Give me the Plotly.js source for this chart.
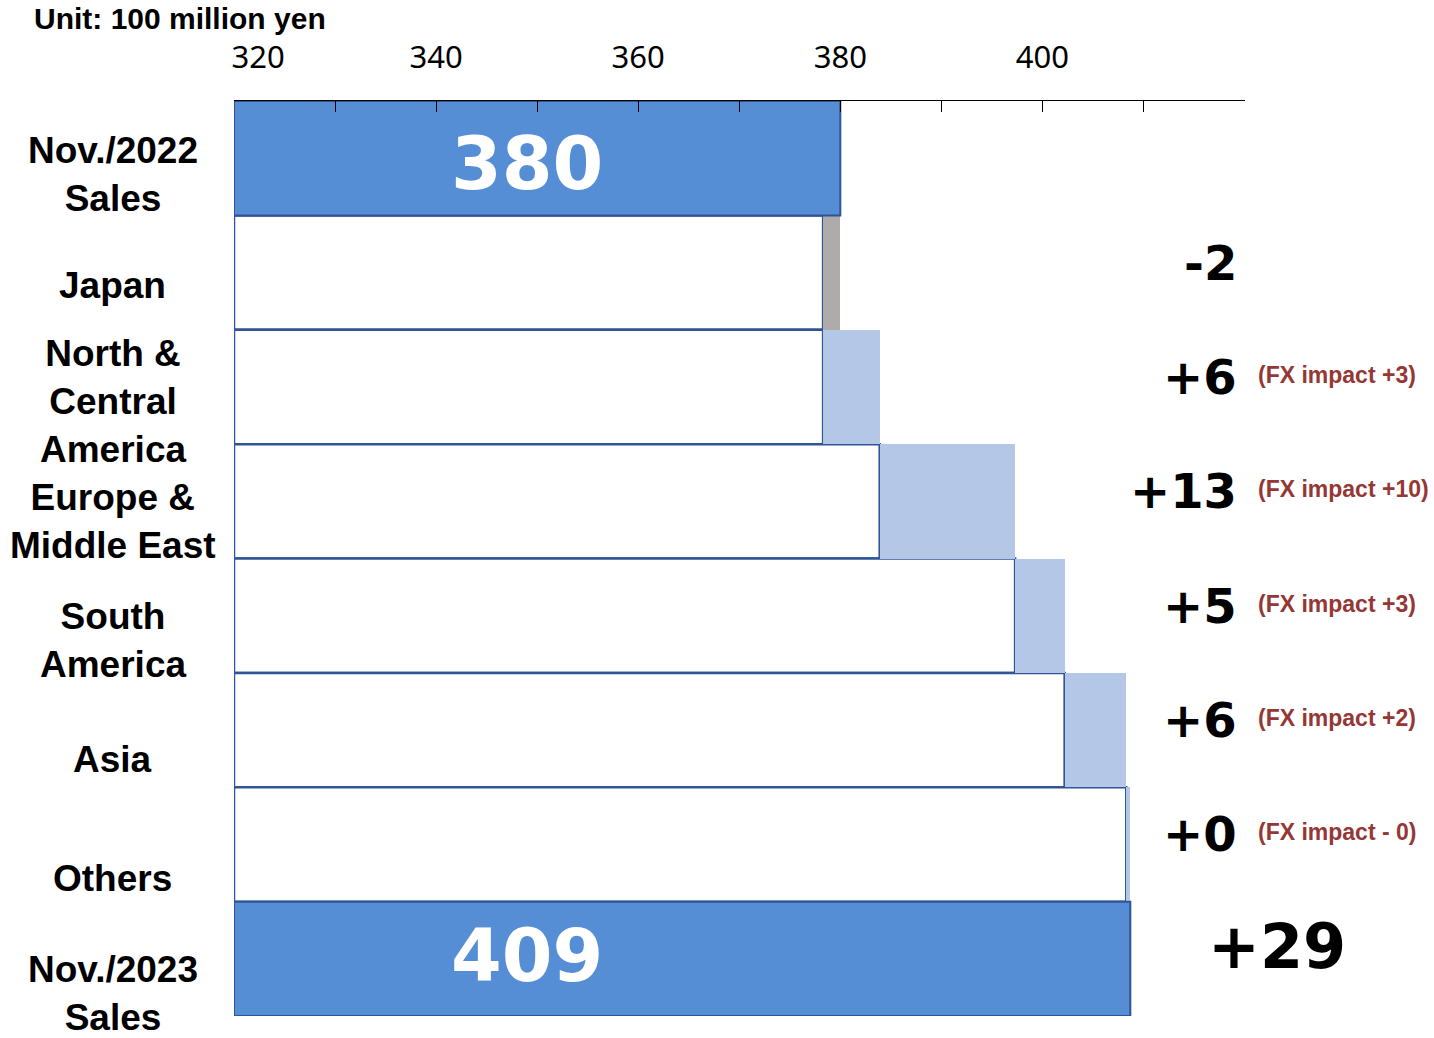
<!DOCTYPE html>
<html>
<head>
<meta charset="utf-8">
<script src="https://cdn.plot.ly/plotly-3.0.1.min.js"></script>
<style>html,body{margin:0;padding:0;background:#fff;}</style>
</head>
<body>
<div id="chart" style="width:1434px;height:1038px;"></div>
<script>
// ---- data ----
const categories = ['Nov./2022 Sales','Japan','North & Central America','Europe & Middle East','South America','Asia','Others','Nov./2023 Sales'];
const categoryLabels = ['Nov./2022<br>Sales','Japan','North &<br>Central<br>America','Europe &<br>Middle East','South<br>America','Asia','Others','Nov./2023<br>Sales'];
const startSales = 380.0;
const endSales = 408.7;
const regions = ['Japan','North & Central America','Europe & Middle East','South America','Asia','Others'];
const regionDeltas = [-1.7, 5.6, 13.4, 4.9, 6.1, 0.4];
const deltaLabels = ['-2','+6','+13','+5','+6','+0'];
const fxLabels = ['', '(FX impact +3)', '(FX impact +10)', '(FX impact +3)', '(FX impact +2)', '(FX impact - 0)'];
const totalLabels = ['380','409'];
const totalChangeLabel = '+29';
const unitLabel = 'Unit: 100 million yen';
const axisMin = 320, axisMax = 420;
const tickValues = [320,330,340,350,360,370,380,390,400,410,420];
const tickLabels = ['\u00a0\u00a0\u00a0\u00a0\u00a0\u00a0320','','340','','360','','380','','400','',''];

// ---- derived ----
const lows = [], sizes = [];
let cum = startSales;
regionDeltas.forEach(d => {
  const next = cum + d;
  lows.push(Math.min(cum, next));
  sizes.push(Math.abs(d));
  cum = next;
});

const darkBlue = '#558ED5', outline = '#2F5597', lightBlue = '#B4C7E7', gray = '#AFABAB', fxColor = '#953735';

const traces = [
  {
    type: 'bar', orientation: 'h', y: regions,
    base: axisMin, x: lows.map(v => v - axisMin),
    marker: {color: '#ffffff', line: {color: outline, width: 2.5}},
    hoverinfo: 'skip'
  },
  {
    type: 'bar', orientation: 'h', y: regions,
    base: lows, x: sizes,
    marker: {color: regionDeltas.map(d => d < 0 ? gray : lightBlue), line: {width: 0}},
    hoverinfo: 'skip'
  },
  {
    type: 'bar', orientation: 'h', y: [categories[0], categories[7]],
    base: axisMin, x: [startSales - axisMin, endSales - axisMin],
    marker: {color: darkBlue, line: {color: outline, width: 2}},
    hoverinfo: 'skip'
  }
];

const annotations = [];
const labelShift = [-16,-13,-15,-20,-25,-29,-34,-35];
categories.forEach((c, i) => {
  annotations.push({
    xref: 'paper', yref: 'y', x: -0.1197, y: c, yshift: labelShift[i],
    text: categoryLabels[i], showarrow: false, xanchor: 'center', yanchor: 'middle',
    font: {family: 'Liberation Sans, Arial, sans-serif', size: 37, color: '#000', weight: 700}
  });
});
regions.forEach((r, i) => {
  annotations.push({
    xref: 'paper', yref: 'y', x: 0.994, y: r, yshift: 10,
    text: deltaLabels[i], showarrow: false, xanchor: 'right', yanchor: 'middle',
    font: {family: 'DejaVu Sans', size: 48, color: '#000', weight: 700}
  });
  if (fxLabels[i]) annotations.push({
    xref: 'paper', yref: 'y', x: 1.0105, y: r, yshift: 12,
    text: fxLabels[i], showarrow: false, xanchor: 'left', yanchor: 'middle',
    font: {family: 'Liberation Sans, Arial, sans-serif', size: 23, color: fxColor, weight: 700}
  });
});
[categories[0], categories[7]].forEach((c, i) => {
  annotations.push({
    xref: 'paper', yref: 'y', x: 0.29, y: c, yshift: i === 0 ? -5 : 3,
    text: totalLabels[i], showarrow: false, xanchor: 'center', yanchor: 'middle',
    font: {family: 'DejaVu Sans', size: 73, color: '#fff', weight: 700}
  });
});
annotations.push({
  xref: 'paper', yref: 'y', x: 1.0317, y: categories[7], yshift: 12,
  text: totalChangeLabel, showarrow: false, xanchor: 'center', yanchor: 'middle',
  font: {family: 'DejaVu Sans', size: 62, color: '#000', weight: 700}
});
annotations.push({
  xref: 'paper', yref: 'paper', x: -0.1998, y: 1.0905,
  text: unitLabel, showarrow: false, xanchor: 'left', yanchor: 'middle',
  font: {family: 'Liberation Sans, Arial, sans-serif', size: 30, color: '#000', weight: 700}
});

const layout = {
  width: 1434, height: 1038,
  margin: {l: 234, r: 189, t: 101, b: 22},
  paper_bgcolor: '#fff', plot_bgcolor: '#fff',
  barmode: 'overlay', bargap: 0,
  showlegend: false,
  xaxis: {
    range: [axisMin, axisMax + 0.05], side: 'top',
    showgrid: false, zeroline: false,
    showline: true, linecolor: '#000', linewidth: 1.5,
    ticks: 'inside', ticklen: 11, tickwidth: 1, tickcolor: '#000',
    tickmode: 'array', tickvals: tickValues, ticktext: tickLabels,
    tickfont: {family: 'Noto Sans', size: 31, color: '#000'},
    ticklabelstandoff: 19
  },
  yaxis: {
    type: 'category', categoryorder: 'array', categoryarray: categories,
    range: [7.5, -0.5],
    showticklabels: false, showgrid: false, zeroline: false, showline: false, ticks: ''
  },
  annotations: annotations
};

Plotly.newPlot('chart', traces, layout, {staticPlot: true, displayModeBar: false});
</script>
</body>
</html>
